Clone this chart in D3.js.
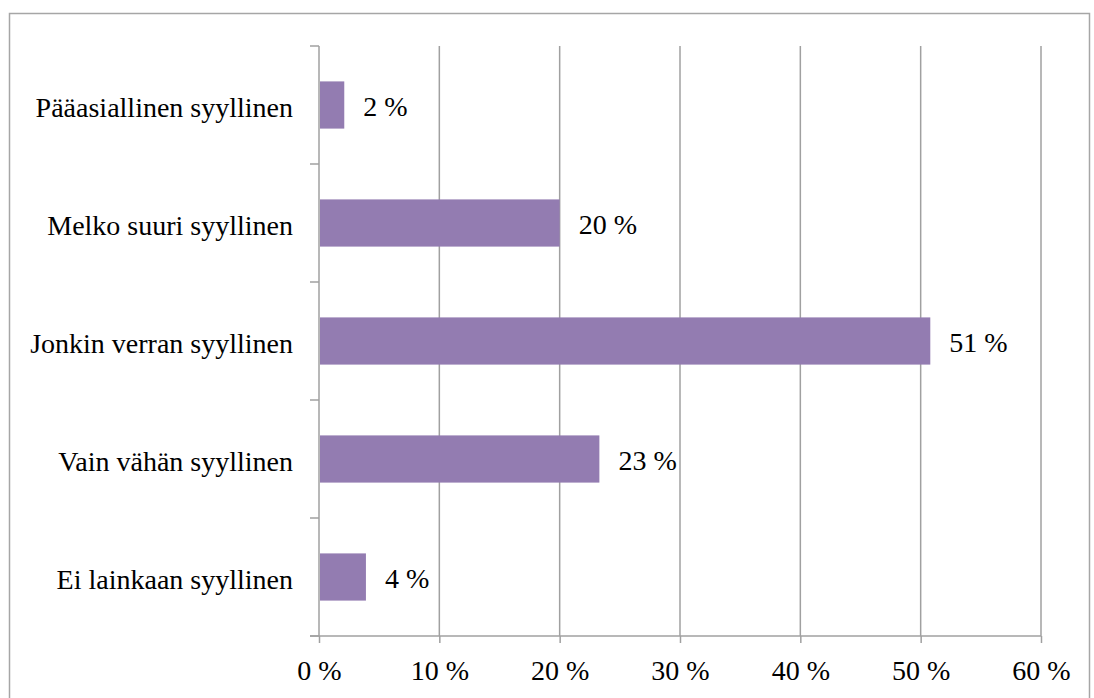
<!DOCTYPE html>
<html>
<head>
<meta charset="utf-8">
<script src="https://cdn.jsdelivr.net/npm/d3@7"></script>
<style>
  body { margin: 0; background: #fff; }
  text { font-family: "Liberation Serif", "DejaVu Serif", serif; fill: #000; }
</style>
</head>
<body>
<div id="chart"></div>
<script>
// data
var categories = ["Pääasiallinen syyllinen", "Melko suuri syyllinen", "Jonkin verran syyllinen", "Vain vähän syyllinen", "Ei lainkaan syyllinen"];
var values = [2.1, 20.0, 50.8, 23.3, 3.9];
var valueLabels = ["2 %", "20 %", "51 %", "23 %", "4 %"];
var xTicks = [0, 10, 20, 30, 40, 50, 60];

var W = 1094, H = 698;
var margin = {top: 46, right: 53, bottom: 62, left: 319},
    width = W - margin.left - margin.right,
    height = H - margin.top - margin.bottom;
var fontSize = "28px";

var svg = d3.select("#chart")
    .append("svg")
    .attr("width", W)
    .attr("height", H);

// outer frame
svg.append("rect")
    .attr("x", 9.5).attr("y", 13.5)
    .attr("width", 1080).attr("height", 700)
    .attr("fill", "none")
    .attr("stroke", "#a6a6a6")
    .attr("stroke-width", 1.5);

var g = svg.append("g")
    .attr("transform", "translate(" + margin.left + "," + margin.top + ")");

var x = d3.scaleLinear().domain([0, 60]).range([0, width]);
var y = d3.scaleBand().domain(categories).range([0, height]).paddingInner(0.6).paddingOuter(0.3);

var gridColor = "#a0a0a0";

// vertical gridlines
g.selectAll(".grid")
    .data(xTicks.slice(1))
    .enter()
    .append("line")
    .attr("x1", d => x(d)).attr("x2", d => x(d))
    .attr("y1", 0).attr("y2", height)
    .attr("stroke", gridColor)
    .attr("stroke-width", 1.5);

// x axis
var xAxis = g.append("g")
    .attr("transform", "translate(0," + height + ")")
    .call(d3.axisBottom(x).tickValues(xTicks).tickFormat(d => d + " %").tickSize(7).tickPadding(18));
xAxis.select(".domain").attr("stroke", gridColor).attr("stroke-width", 1.5).attr("d", "M-9,0H" + width);
xAxis.selectAll(".tick line").attr("stroke", gridColor).attr("stroke-width", 1.5);
xAxis.selectAll("text")
    .attr("y", 44).attr("dy", null)
    .style("font-size", fontSize).style("font-family", "Liberation Serif");

// y axis: ticks sit on band boundaries
var bounds = d3.range(categories.length + 1).map(i => i * height / categories.length);
g.append("line")
    .attr("x1", 0).attr("x2", 0).attr("y1", 0).attr("y2", height)
    .attr("stroke", gridColor).attr("stroke-width", 1.5);
g.selectAll(".ytick")
    .data(bounds)
    .enter()
    .append("line")
    .attr("x1", -9).attr("x2", 0)
    .attr("y1", d => d).attr("y2", d => d)
    .attr("stroke", gridColor).attr("stroke-width", 1.5);

// category labels
g.selectAll(".cat")
    .data(categories)
    .enter()
    .append("text")
    .attr("x", -26)
    .attr("y", d => y(d) + y.bandwidth() / 2)
    .attr("dy", "0.42em")
    .attr("text-anchor", "end")
    .style("font-size", fontSize)
    .text(d => d);

// bars
g.selectAll(".bar")
    .data(values)
    .enter()
    .append("rect")
    .attr("x", 1)
    .attr("y", (d, i) => y(categories[i]))
    .attr("width", d => x(d) - 1)
    .attr("height", y.bandwidth())
    .attr("fill", "#937cb1");

// value labels
g.selectAll(".val")
    .data(values)
    .enter()
    .append("text")
    .attr("x", d => x(d) + 19)
    .attr("y", (d, i) => y(categories[i]) + y.bandwidth() / 2)
    .attr("dy", "0.4em")
    .style("font-size", fontSize)
    .text((d, i) => valueLabels[i]);
</script>
</body>
</html>
